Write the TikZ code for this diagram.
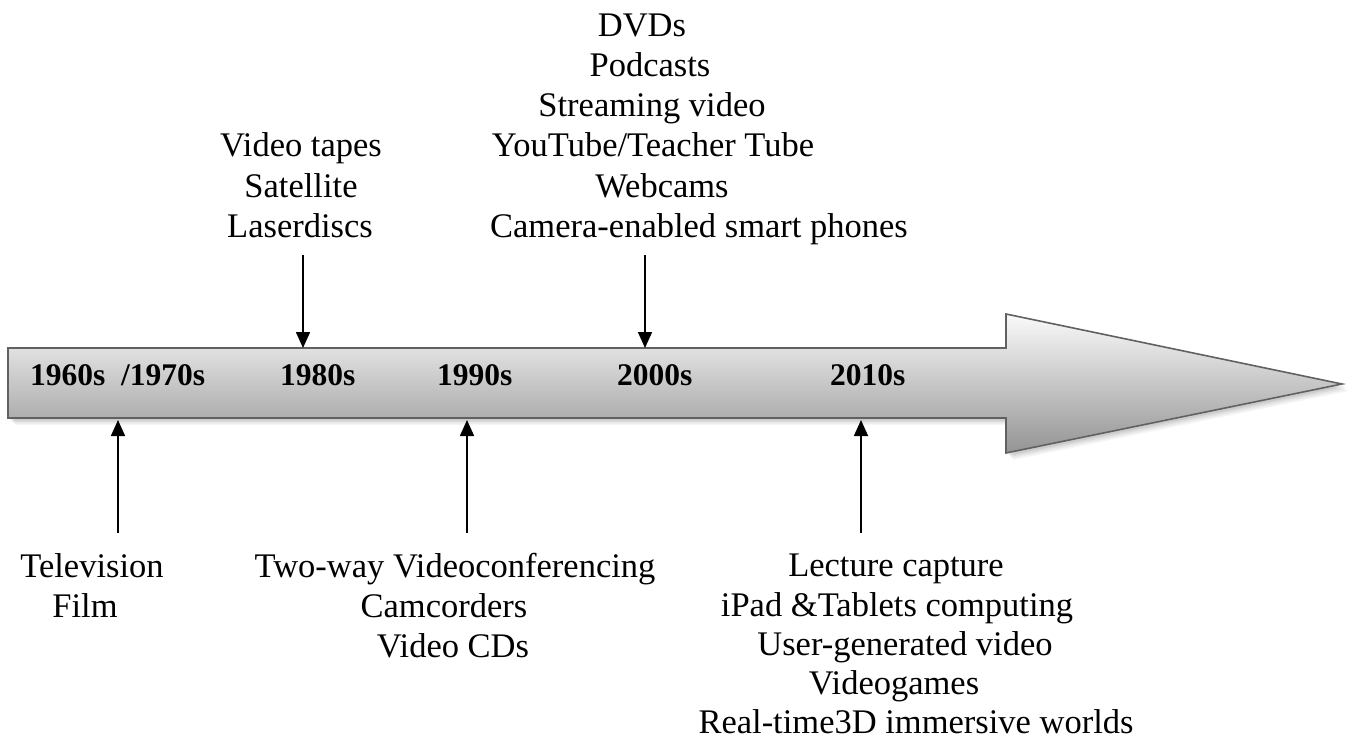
\documentclass[tikz,border=0pt]{standalone}
\usepackage{fontspec}
\setmainfont{Liberation Serif}
\usetikzlibrary{arrows.meta}

% outline of the big timeline arrow (body + head)
\newcommand\timelinearrow[1]{%
  \path[#1] (8,348) -- (1006,348) -- (1006,314) -- (1342,384)
            -- (1006,453) -- (1006,418) -- (8,418) -- cycle;}

\begin{document}
\begin{tikzpicture}[x=1pt,y=-1pt,
  item/.style={anchor=base, inner sep=0pt, font=\fontsize{34.5}{40}\selectfont},
  decade/.style={anchor=base west, inner sep=0pt, font=\fontsize{31.5}{36}\selectfont\bfseries},
  ptr/.style={line width=1.6pt, -{Triangle[width=14pt,length=16pt]}},
]
\useasboundingbox (0,0) rectangle (1349,738);

% soft drop shadow
\foreach \s/\o in {7/0.04,5.5/0.05,4/0.06,2.5/0.07}{
  \begin{scope}[shift={(\s,\s)}]
    \timelinearrow{fill=black, opacity=\o}
  \end{scope}
}

% timeline arrow
\timelinearrow{draw=black!62, line width=1.6pt, top color=black!2,
  middle color=black!15, bottom color=black!42}

% decades
\node[decade] (d60) at (30,385) {1960s\ \ /1970s};
\node[decade] (d80) at (280,385) {1980s};
\node[decade] (d90) at (437,385) {1990s};
\node[decade] (d00) at (617,385) {2000s};
\node[decade] (d10) at (830,385) {2010s};

% 1980s
\node[item] (vt) at (301,157) {Video tapes};
\node[item] (sat) at (301,197) {Satellite};
\node[item] (ld) at (300,237) {Laserdiscs};

% 2000s
\node[item] (dvd) at (642,37) {DVDs};
\node[item] (pod) at (650,77) {Podcasts};
\node[item] (stream) at (652,117) {Streaming video};
\node[item] (yt) at (653,157) {YouTube/Teacher Tube};
\node[item] (web) at (662,197) {Webcams};
\node[item] (cam) at (699,237) {Camera-enabled smart phones};

% 1960s/1970s
\node[item] (tv) at (92,577) {Television};
\node[item] (film) at (85,617) {Film};

% 1990s
\node[item] (twoway) at (455,577) {Two-way Videoconferencing};
\node[item] (camc) at (444,617) {Camcorders};
\node[item] (vcd) at (453,657) {Video CDs};

% 2010s
\node[item] (lect) at (896,576) {Lecture capture};
\node[item] (ipad) at (897,616) {iPad \&Tablets computing};
\node[item] (ugv) at (905,655) {User-generated video};
\node[item] (games) at (894,694) {Videogames};
\node[item] (rt3d) at (916,733) {Real-time3D immersive worlds};

% pointer ends
\coordinate (p80s) at (303,255);  \coordinate (p80e) at (303,348);
\coordinate (p00s) at (645,255);  \coordinate (p00e) at (645,348);
\coordinate (p60s) at (118,533);  \coordinate (p60e) at (118,420);
\coordinate (p90s) at (467,533);  \coordinate (p90e) at (467,420);
\coordinate (p10s) at (861,533);  \coordinate (p10e) at (861,420);

\draw[ptr] (p80s) -- (p80e);
\draw[ptr] (p00s) -- (p00e);
\draw[ptr] (p60s) -- (p60e);
\draw[ptr] (p90s) -- (p90e);
\draw[ptr] (p10s) -- (p10e);
\end{tikzpicture}
\end{document}
